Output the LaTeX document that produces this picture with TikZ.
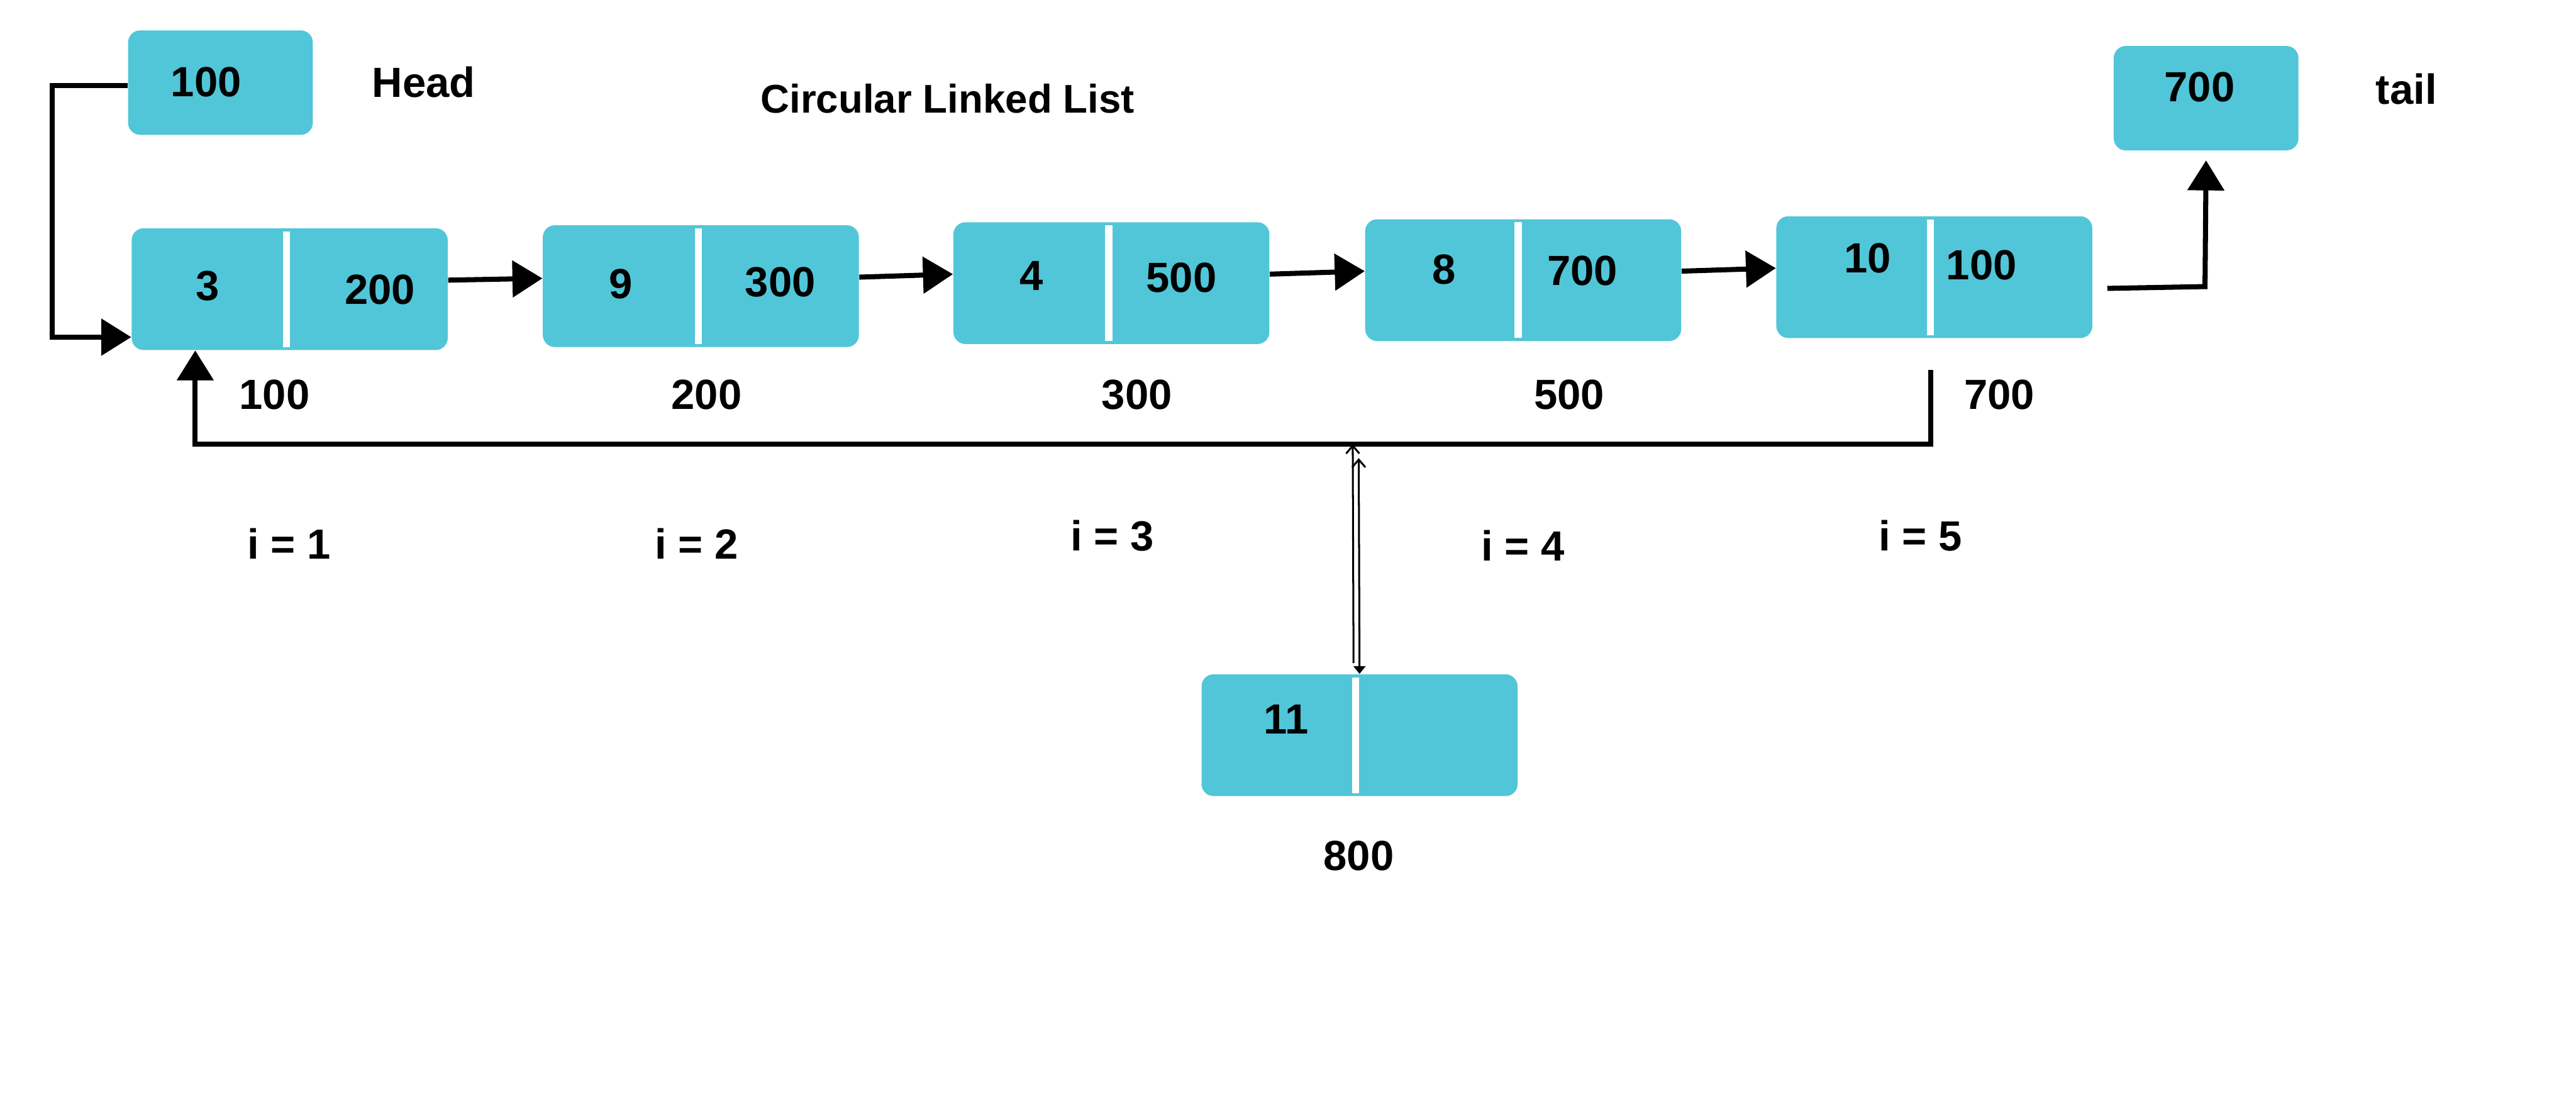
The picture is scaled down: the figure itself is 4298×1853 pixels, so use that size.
\documentclass[tikz,border=0pt]{standalone}
\usepackage{fontspec}
\setmainfont{Liberation Sans}
\usetikzlibrary{arrows.meta}
\definecolor{nodecyan}{RGB}{81,198,216}
\tikzset{
  box/.style={fill=nodecyan, rounded corners=0.2cm, inner sep=0, anchor=north west},
  cellbox/.style={box, minimum width=5.27cm, minimum height=2.03cm},
  smallbox/.style={box, minimum width=3.08cm, minimum height=1.74cm},
  divider/.style={fill=white, inner sep=0, minimum width=0.12cm, minimum height=1.93cm, anchor=north},
  lbl/.style={font=\fontsize{20}{24}\selectfont\bfseries, inner sep=0},
  titlelbl/.style={font=\fontsize{19}{23}\selectfont\bfseries, inner sep=0},
  link/.style={line width=2.4pt, -{Triangle[length=0.5cm,width=0.6cm]}},
  thinline/.style={line width=0.9pt}
}
\begin{document}
\begin{tikzpicture}[x=0.01cm,y=-0.01cm]
\useasboundingbox (0,0) rectangle (4298,1853);
% head / tail boxes
\node[smallbox] (hb) at (213,50) {};
\node[smallbox] (tb) at (3526,76) {};
\node[lbl] (hbt) at (344,137) {100};
\node[lbl] (tbt) at (3670,145) {700};
\node[lbl] (headl) at (707,137) {Head};
\node[lbl] (taill) at (4015,148) {tail};
\node[titlelbl] (title) at (1581,164) {Circular Linked List};
% list nodes
\node[cellbox] (n1) at (219,380) {};
\node[cellbox] (n2) at (905,375) {};
\node[cellbox] (n3) at (1590,370) {};
\node[cellbox] (n4) at (2277,365) {};
\node[cellbox] (n5) at (2963,360) {};
\node[cellbox] (n11) at (2004,1124) {};
\node[divider] (d1) at (478,385) {};
\node[divider] (d2) at (1165,380) {};
\node[divider] (d3) at (1850,375) {};
\node[divider] (d4) at (2533,370) {};
\node[divider] (d5) at (3221,365) {};
\node[divider] (d11) at (2262,1129) {};
% node texts
\node[lbl] (v1) at (346,477) {3};
\node[lbl] (p1) at (634,483) {200};
\node[lbl] (v2) at (1036,474) {9};
\node[lbl] (p2) at (1302,471) {300};
\node[lbl] (v3) at (1721,460) {4};
\node[lbl] (p3) at (1971,463) {500};
\node[lbl] (v4) at (2409,450) {8};
\node[lbl] (p4) at (2640,452) {700};
\node[lbl] (v5) at (3116,431) {10};
\node[lbl] (p5) at (3306,442) {100};
\node[lbl] (v11) at (2146,1200) {11};
% address labels
\node[lbl] (a1) at (458,658) {100};
\node[lbl] (a2) at (1179,658) {200};
\node[lbl] (a3) at (1897,658) {300};
\node[lbl] (a4) at (2618,658) {500};
\node[lbl] (a5) at (3336,658) {700};
\node[lbl] (a11) at (2267,1428) {800};
% index labels
\node[lbl] (i1) at (482,907) {i = 1};
\node[lbl] (i2) at (1162,907) {i = 2};
\node[lbl] (i3) at (1856,894) {i = 3};
\node[lbl] (i4) at (2541,910) {i = 4};
\node[lbl] (i5) at (3204,894) {i = 5};
% links between nodes
\draw[link] ([yshift=0.15cm]n1.east) -- ([yshift=0.13cm]n2.west);
\draw[link] ([yshift=0.15cm]n2.east) -- ([yshift=0.15cm]n3.west);
\draw[link] ([yshift=0.15cm]n3.east) -- ([yshift=0.15cm]n4.west);
\draw[link] ([yshift=0.15cm]n4.east) -- ([yshift=0.15cm]n5.west);
% head pointer
\draw[link] ([yshift=-0.05cm]hb.west) -- ++(-126,0) |- ([yshift=-0.8cm]n1.west);
% tail pointer
\coordinate (ts) at (3516,481);
\draw[link] (ts) -- (3679,478) -- ([yshift=-0.16cm]tb.south);
% loop back to first node
\coordinate (lp) at (3221,617);
\coordinate (lc) at (3221,741);
\draw[link] (lp) -- (lc) -| ([xshift=-1.575cm]n1.south);
% insertion arrows
\coordinate (m1) at (2257,741);
\coordinate (m2) at (2267,764);
\draw[thinline, {Straight Barb[length=0.13cm,width=0.22cm]}-] (m1) -- ([xshift=-0.1cm,yshift=0.18cm]n11.north);
\draw[thinline, {Straight Barb[length=0.13cm,width=0.22cm]}-{Triangle[length=0.13cm,width=0.2cm]}] (m2) -- (n11.north);
\end{tikzpicture}
\end{document}
